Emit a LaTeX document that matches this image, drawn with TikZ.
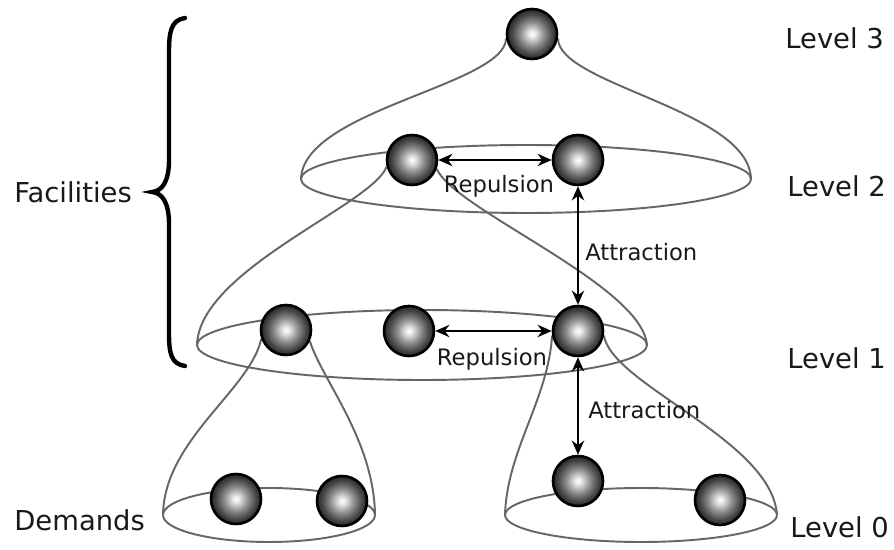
\documentclass[tikz,border=0pt]{standalone}
\usepackage{fontspec}
\setmainfont{DejaVu Sans}
\usetikzlibrary{arrows.meta}
\pgfdeclarelayer{bg}
\pgfsetlayers{bg,main}
\pgfdeclareradialshading{ballshade}{\pgfpoint{0bp}{0bp}}{color(0bp)=(white); color(3bp)=(white!92!black); color(12bp)=(black!45); color(20bp)=(black!72); color(25bp)=(black!85); color(50bp)=(black!85)}
\begin{document}
\begin{tikzpicture}[x=0.02cm,y=-0.02cm,
  ball/.style={circle,minimum size=1cm,inner sep=0pt,draw=black,line width=1.5pt,shading=ballshade},
  rim/.style={draw=black!60,line width=1.1pt},
  arr/.style={{Stealth[length=8pt,width=7pt]}-{Stealth[length=8pt,width=7pt]},line width=1.3pt,black},
  lvl/.style={font=\fontsize{15.6}{18}\selectfont,text=black!90,anchor=west,inner sep=0pt},
  lab/.style={font=\fontsize{12.9}{15}\selectfont,text=black!90,inner sep=0pt}]
\useasboundingbox (0,0) rectangle (894,550);

% balls
\node[ball] (l3) at (532,34) {};
\node[ball] (l2a) at (412,160) {};
\node[ball] (l2b) at (578,160) {};
\node[ball] (l1a) at (286,330) {};
\node[ball] (l1b) at (409,331) {};
\node[ball] (l1c) at (578,331) {};
\node[ball] (l0a) at (236,499) {};
\node[ball] (l0b) at (342,501) {};
\node[ball] (l0c) at (578,481) {};
\node[ball] (l0d) at (720,500) {};

% ellipse ends
\coordinate (e2w) at (301,179); \coordinate (e2e) at (751,179);
\coordinate (e1w) at (197,345); \coordinate (e1e) at (647,345);
\coordinate (e0aw) at (163,515); \coordinate (e0ae) at (375,515);
\coordinate (e0bw) at (505,515); \coordinate (e0be) at (777,515);

\begin{pgfonlayer}{bg}
\fill[white] (0,0) rectangle (894,550);
\draw[rim] (526,179) ellipse [x radius=225, y radius=34];
\draw[rim] (422,345) ellipse [x radius=225, y radius=35];
\draw[rim] (269,515) ellipse [x radius=106, y radius=27];
\draw[rim] (641,515) ellipse [x radius=136, y radius=27];
% cones
\draw[rim] (l3.190) .. controls (505,85) and (303,110) .. (e2w);
\draw[rim] (l3.-10) .. controls (559,85) and (749,110) .. (e2e);
\draw[rim] (l2a.195) .. controls (372,205) and (199,270) .. (e1w);
\draw[rim] (l2a.-20) .. controls (455,210) and (642,285) .. (e1e);
\draw[rim] (l1a.200) .. controls (250,390) and (164,440) .. (e0aw);
\draw[rim] (l1a.-25) .. controls (322,380) and (374,440) .. (e0ae);
\draw[rim] (l1c.190) .. controls (548,400) and (507,450) .. (e0bw);
\draw[rim] (l1c.-10) .. controls (612,385) and (772,440) .. (e0be);
\end{pgfonlayer}

% arrows
\draw[arr] (l2a) -- (l2b);
\draw[arr] (l1b) -- (l1c);
\draw[arr] (l2b) -- (l1c);
\draw[arr] (l1c) -- (l0c);

% labels
\node[lab] (rep2) at (499,186) {Repulsion};
\node[lab] (rep1) at (492,359) {Repulsion};
\node[lab,anchor=west] (att2) at (585,252) {Attraction};
\node[lab,anchor=west] (att1) at (588,410) {Attraction};

\node[lvl] (lv3) at (785,38) {Level 3};
\node[lvl] (lv2) at (787,186) {Level 2};
\node[lvl] (lv1) at (787,358) {Level 1};
\node[lvl] (lv0) at (790,527) {Level 0};
\node[lvl] (fac) at (14,192) {Facilities};
\node[lvl] (dem) at (14,520) {Demands};

% brace
\draw[line width=2.5pt,line cap=round] (185,18) .. controls (171,20) and (169,32) .. (169,52) -- (169,160)
  .. controls (169,182) and (162,191) .. (152,192)
  .. controls (162,193) and (169,202) .. (169,224) -- (169,333)
  .. controls (169,353) and (171,364) .. (185,366);
\end{tikzpicture}
\end{document}
